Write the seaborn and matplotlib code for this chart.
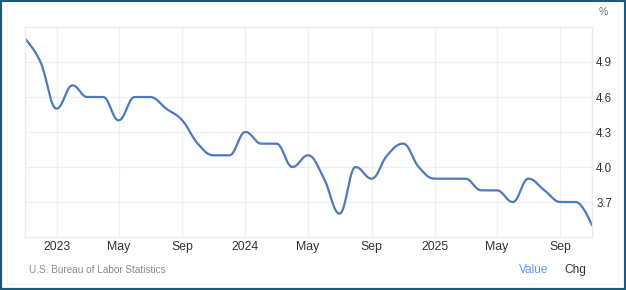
import numpy as np
import pandas as pd
import matplotlib
matplotlib.use("Agg")
import matplotlib.pyplot as plt
import matplotlib.dates as mdates
from matplotlib.patches import Rectangle
import seaborn as sns

# ---- data ----
months = pd.date_range("2022-11-01", "2025-11-01", freq="MS")
values = [5.1, 4.9, 4.5, 4.7, 4.6, 4.6, 4.4, 4.6, 4.6, 4.5,
          4.4, 4.2, 4.1, 4.1, 4.3, 4.2, 4.2, 4.0, 4.1, 3.9,
          3.6, 4.0, 3.9, 4.1, 4.2, 4.0, 3.9, 3.9, 3.9, 3.8,
          3.8, 3.7, 3.9, 3.8, 3.7, 3.7, 3.5]
tick_dates = ["2023-01-01", "2023-05-01", "2023-09-01", "2024-01-01", "2024-05-01",
              "2024-09-01", "2025-01-01", "2025-05-01", "2025-09-01"]
tick_labels = ["2023", "May", "Sep", "2024", "May", "Sep", "2025", "May", "Sep"]
y_ticks = [3.7, 4.0, 4.3, 4.6, 4.9]


# ---- spline rendering (Highcharts-style smoothing of the monthly points) ----
def spline_path(xs, ys, smoothing=1.5, n=40):
    xs = np.asarray(xs, float)
    ys = np.asarray(ys, float)
    m = len(xs)
    lcx, lcy = xs.copy(), ys.copy()
    rcx, rcy = xs.copy(), ys.copy()
    d = smoothing + 1
    for i in range(1, m - 1):
        px, py = xs[i], ys[i]
        lx, ly = xs[i - 1], ys[i - 1]
        nx, ny = xs[i + 1], ys[i + 1]
        a_x = (smoothing * px + lx) / d
        a_y = (smoothing * py + ly) / d
        b_x = (smoothing * px + nx) / d
        b_y = (smoothing * py + ny) / d
        corr = 0.0
        if b_x != a_x:
            corr = (b_y - a_y) * (b_x - px) / (b_x - a_x) + py - b_y
        a_y += corr
        b_y += corr
        if a_y > ly and a_y > py:
            a_y = max(ly, py); b_y = 2 * py - a_y
        elif a_y < ly and a_y < py:
            a_y = min(ly, py); b_y = 2 * py - a_y
        if b_y > ny and b_y > py:
            b_y = max(ny, py); a_y = 2 * py - b_y
        elif b_y < ny and b_y < py:
            b_y = min(ny, py); a_y = 2 * py - b_y
        lcx[i], lcy[i], rcx[i], rcy[i] = a_x, a_y, b_x, b_y
    t = np.linspace(0, 1, n)
    outx, outy = [xs[0]], [ys[0]]
    for i in range(1, m):
        p0 = (xs[i - 1], ys[i - 1]); p1 = (rcx[i - 1], rcy[i - 1])
        p2 = (lcx[i], lcy[i]); p3 = (xs[i], ys[i])
        bx = ((1 - t) ** 3 * p0[0] + 3 * (1 - t) ** 2 * t * p1[0]
              + 3 * (1 - t) * t ** 2 * p2[0] + t ** 3 * p3[0])
        by = ((1 - t) ** 3 * p0[1] + 3 * (1 - t) ** 2 * t * p1[1]
              + 3 * (1 - t) * t ** 2 * p2[1] + t ** 3 * p3[1])
        outx.extend(bx[1:]); outy.extend(by[1:])
    return np.array(outx), np.array(outy)


sns.set_theme(style="white")
plt.rcParams["font.family"] = ["Liberation Sans", "DejaVu Sans"]

xnum = mdates.date2num(months.to_pydatetime())
sx, sy = spline_path(xnum, values)
df = pd.DataFrame({"x": sx, "y": sy})

fig = plt.figure(figsize=(6.26, 2.90), dpi=100)
fig.patch.set_facecolor("white")
ax = fig.add_axes([25 / 626, 1 - 237 / 290, (592 - 25) / 626, (237 - 27) / 290])

sns.lineplot(data=df, x="x", y="y", sort=False, estimator=None,
             color="#4f79bd", linewidth=1.6, ax=ax)

ax.set_xlim(xnum[0], xnum[-1])
ax.set_ylim(3.4, 5.2)
ax.set_xlabel("")
ax.set_ylabel("")

ax.set_xticks(mdates.date2num(pd.to_datetime(tick_dates).to_pydatetime()))
ax.set_xticklabels(tick_labels)
ax.set_yticks(y_ticks)
ax.set_yticklabels([f"{v:.1f}" for v in y_ticks])
ax.yaxis.tick_right()
ax.tick_params(axis="x", length=0, pad=3, labelsize=8.8, labelcolor="#333333")
ax.tick_params(axis="y", length=0, pad=3, labelsize=8.3, labelcolor="#333333")

ax.grid(True, color="#f0f0f0", linewidth=1.0)
for s in ax.spines.values():
    s.set_color("#ebebeb")
    s.set_linewidth(1.0)

# frame and footer
fig.patches.append(Rectangle((7 / 626, 6 / 290), 611 / 626, 280 / 290, transform=fig.transFigure,
                             fill=False, edgecolor="#f3f3f3", linewidth=0.8, zorder=0))
fig.patches.append(Rectangle((0, 0), 1, 1, transform=fig.transFigure, fill=False,
                             edgecolor="#1d5a78", linewidth=3.0, zorder=10))
fig.text(603 / 626, 1 - 12 / 290, "%", ha="center", va="center", fontsize=7.5, color="#777777")
fig.text(29 / 626, 1 - 270 / 290, "U.S. Bureau of Labor Statistics", ha="left", va="center",
         fontsize=7.2, color="#8a8a8a")
fig.text(534 / 626, 1 - 270 / 290, "Value", ha="center", va="center", fontsize=8.6, color="#5b9cf0")
fig.text(575.5 / 626, 1 - 270 / 290, "Chg", ha="center", va="center", fontsize=8.6, color="#333333")

fig.savefig("out.png", dpi=100, facecolor="white")
